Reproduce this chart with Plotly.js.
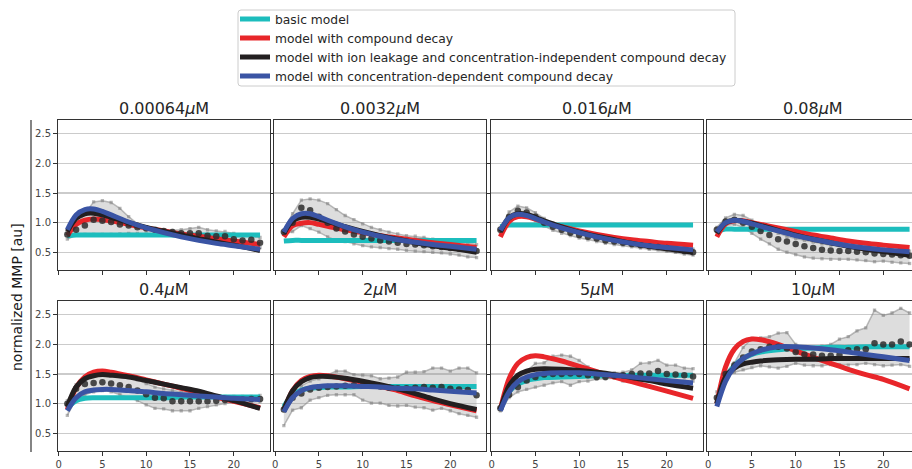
<!DOCTYPE html>
<html>
<head>
<meta charset="utf-8">
<script src="https://cdn.plot.ly/plotly-3.0.1.min.js"></script>
<style>
  html, body { margin: 0; padding: 0; background: #fff; width: 912px; height: 469px; overflow: hidden; }
  #chart { width: 920px; height: 469px; }
</style>
</head>
<body>
<div id="chart"></div>
<script>
// Compound concentrations, one panel each (µM)
const concentrations = ["0.00064", "0.0032", "0.016", "0.08", "0.4", "2", "5", "10"];

// Measurement days
const days = [1, 2, 3, 4, 5, 6, 7, 8, 9, 10, 11, 12, 13, 14, 15, 16, 17, 18, 19, 20, 21, 22, 23];

// Days at which the fitted model curves are evaluated
const modelDays = [1, 2, 3, 4, 5, 6, 8, 10, 12, 14, 16, 18, 20, 23];

// Mean normalized MMP per panel
const meanMMP = [
  [0.80, 0.88, 0.95, 1.05, 1.03, 1.01, 0.97, 0.95, 0.92, 0.90, 0.88, 0.86, 0.84, 0.82, 0.82, 0.82, 0.78, 0.77, 0.77, 0.72, 0.70, 0.71, 0.66],
  [0.84, 1.00, 1.25, 1.21, 1.10, 1.00, 0.90, 0.85, 0.80, 0.76, 0.73, 0.70, 0.68, 0.66, 0.64, 0.63, 0.62, 0.60, 0.59, 0.57, 0.56, 0.54, 0.52],
  [0.88, 1.10, 1.20, 1.17, 1.10, 1.00, 0.93, 0.88, 0.83, 0.79, 0.76, 0.73, 0.70, 0.68, 0.66, 0.64, 0.62, 0.60, 0.59, 0.57, 0.55, 0.52, 0.50],
  [0.88, 1.02, 1.05, 1.00, 0.93, 0.86, 0.79, 0.72, 0.68, 0.64, 0.60, 0.57, 0.54, 0.53, 0.52, 0.52, 0.51, 0.50, 0.48, 0.47, 0.46, 0.45, 0.44],
  [1.00, 1.25, 1.33, 1.35, 1.36, 1.34, 1.31, 1.28, 1.22, 1.16, 1.10, 1.09, 1.04, 1.04, 1.04, 1.04, 1.04, 1.05, 1.06, 1.07, 1.07, 1.08, 1.08],
  [0.90, 1.10, 1.17, 1.24, 1.27, 1.28, 1.29, 1.30, 1.31, 1.30, 1.30, 1.29, 1.27, 1.26, 1.26, 1.27, 1.28, 1.27, 1.28, 1.25, 1.24, 1.23, 1.14],
  [0.92, 1.15, 1.28, 1.39, 1.45, 1.49, 1.50, 1.50, 1.51, 1.50, 1.48, 1.45, 1.45, 1.47, 1.48, 1.50, 1.51, 1.51, 1.55, 1.50, 1.49, 1.48, 1.46],
  [1.10, 1.50, 1.65, 1.78, 1.88, 1.92, 1.96, 1.96, 1.93, 1.87, 1.83, 1.83, 1.81, 1.81, 1.82, 1.90, 1.92, 1.92, 2.02, 2.00, 2.00, 2.05, 2.00]
];

// Upper replicate trace per panel
const upperReplicate = [
  [0.85, 0.95, 1.15, 1.35, 1.37, 1.34, 1.24, 1.10, 0.98, 0.93, 0.90, 0.88, 0.87, 0.88, 0.90, 0.92, 0.88, 0.86, 0.85, 0.82, 0.79, 0.77, 0.75],
  [0.88, 1.15, 1.38, 1.40, 1.38, 1.32, 1.22, 1.12, 1.05, 0.98, 0.92, 0.88, 0.84, 0.81, 0.78, 0.77, 0.75, 0.72, 0.71, 0.69, 0.67, 0.66, 0.63],
  [0.92, 1.18, 1.28, 1.25, 1.17, 1.07, 1.00, 0.94, 0.88, 0.84, 0.80, 0.77, 0.75, 0.72, 0.70, 0.68, 0.66, 0.65, 0.63, 0.61, 0.59, 0.57, 0.55],
  [0.92, 1.08, 1.14, 1.12, 1.04, 0.95, 0.88, 0.82, 0.77, 0.73, 0.70, 0.67, 0.64, 0.62, 0.61, 0.61, 0.60, 0.59, 0.57, 0.56, 0.55, 0.53, 0.52],
  [1.05, 1.32, 1.42, 1.46, 1.50, 1.52, 1.50, 1.46, 1.40, 1.34, 1.28, 1.25, 1.22, 1.20, 1.18, 1.15, 1.13, 1.12, 1.12, 1.12, 1.12, 1.12, 1.14],
  [0.95, 1.10, 1.30, 1.38, 1.42, 1.48, 1.55, 1.55, 1.49, 1.48, 1.47, 1.42, 1.43, 1.45, 1.53, 1.53, 1.54, 1.60, 1.60, 1.55, 1.60, 1.60, 1.52],
  [0.95, 1.22, 1.40, 1.55, 1.68, 1.69, 1.80, 1.82, 1.80, 1.73, 1.62, 1.53, 1.52, 1.52, 1.53, 1.57, 1.68, 1.69, 1.73, 1.65, 1.65, 1.60, 1.59],
  [1.20, 1.52, 1.69, 1.95, 2.10, 2.11, 2.13, 2.19, 2.20, 2.00, 1.95, 1.95, 1.97, 2.00, 2.09, 2.13, 2.23, 2.28, 2.58, 2.49, 2.53, 2.61, 2.53]
];

// Lower replicate trace per panel
const lowerReplicate = [
  [0.72, 0.79, 0.80, 0.80, 0.80, 0.80, 0.81, 0.82, 0.82, 0.81, 0.80, 0.79, 0.78, 0.76, 0.75, 0.74, 0.71, 0.69, 0.69, 0.64, 0.62, 0.64, 0.58],
  [0.80, 0.85, 0.95, 0.90, 0.84, 0.76, 0.70, 0.68, 0.64, 0.61, 0.59, 0.58, 0.56, 0.55, 0.53, 0.52, 0.51, 0.50, 0.49, 0.47, 0.45, 0.42, 0.41],
  [0.84, 1.02, 1.12, 1.10, 1.03, 0.94, 0.87, 0.82, 0.78, 0.74, 0.71, 0.68, 0.65, 0.63, 0.61, 0.59, 0.57, 0.55, 0.54, 0.52, 0.50, 0.47, 0.45],
  [0.82, 0.95, 0.97, 0.92, 0.82, 0.72, 0.64, 0.55, 0.50, 0.46, 0.42, 0.40, 0.39, 0.38, 0.38, 0.38, 0.37, 0.36, 0.34, 0.35, 0.33, 0.32, 0.31],
  [0.80, 1.08, 1.15, 1.20, 1.22, 1.20, 1.15, 1.10, 1.05, 0.98, 0.92, 0.91, 0.88, 0.88, 0.88, 0.92, 0.95, 0.98, 1.00, 1.02, 1.02, 1.02, 1.03],
  [0.63, 0.89, 0.93, 1.06, 1.10, 1.14, 1.15, 1.15, 1.15, 1.06, 1.01, 1.01, 0.97, 0.96, 0.97, 0.94, 0.93, 0.89, 0.92, 0.88, 0.83, 0.80, 0.77],
  [0.88, 1.10, 1.20, 1.24, 1.28, 1.31, 1.35, 1.37, 1.31, 1.37, 1.38, 1.41, 1.42, 1.43, 1.38, 1.37, 1.38, 1.40, 1.37, 1.38, 1.36, 1.38, 1.38],
  [1.03, 1.45, 1.53, 1.57, 1.61, 1.64, 1.62, 1.60, 1.63, 1.68, 1.65, 1.64, 1.64, 1.66, 1.66, 1.65, 1.66, 1.68, 1.66, 1.64, 1.65, 1.66, 1.63]
];

// Model fits, evaluated at modelDays
const basicModel = [
  [0.78, 0.79, 0.79, 0.79, 0.79, 0.79, 0.79, 0.79, 0.79, 0.79, 0.79, 0.79, 0.79, 0.79],
  [0.69, 0.70, 0.70, 0.70, 0.70, 0.70, 0.70, 0.70, 0.70, 0.70, 0.70, 0.70, 0.70, 0.70],
  [0.93, 0.96, 0.96, 0.96, 0.96, 0.96, 0.96, 0.96, 0.96, 0.96, 0.96, 0.96, 0.96, 0.96],
  [0.85, 0.89, 0.89, 0.89, 0.89, 0.89, 0.89, 0.89, 0.89, 0.89, 0.89, 0.89, 0.89, 0.89],
  [0.93, 1.05, 1.09, 1.10, 1.10, 1.10, 1.10, 1.10, 1.10, 1.11, 1.11, 1.11, 1.11, 1.11],
  [0.95, 1.15, 1.23, 1.26, 1.27, 1.28, 1.28, 1.29, 1.29, 1.29, 1.29, 1.29, 1.29, 1.29],
  [0.90, 1.20, 1.33, 1.39, 1.42, 1.44, 1.45, 1.46, 1.47, 1.47, 1.48, 1.48, 1.48, 1.48],
  [1.00, 1.42, 1.64, 1.76, 1.83, 1.87, 1.91, 1.93, 1.94, 1.95, 1.95, 1.96, 1.96, 1.96]
];
const decayModel = [
  [0.78, 0.97, 1.04, 1.06, 1.05, 1.03, 0.97, 0.91, 0.86, 0.81, 0.77, 0.73, 0.69, 0.63],
  [0.76, 0.95, 0.99, 1.00, 0.97, 0.94, 0.88, 0.83, 0.78, 0.74, 0.70, 0.66, 0.63, 0.58],
  [0.76, 1.02, 1.10, 1.10, 1.06, 1.01, 0.93, 0.86, 0.80, 0.75, 0.71, 0.68, 0.65, 0.62],
  [0.76, 0.98, 1.03, 1.03, 1.00, 0.97, 0.91, 0.85, 0.79, 0.74, 0.69, 0.65, 0.62, 0.58],
  [0.90, 1.27, 1.45, 1.53, 1.55, 1.53, 1.47, 1.40, 1.33, 1.26, 1.19, 1.11, 1.04, 0.93],
  [0.88, 1.22, 1.39, 1.46, 1.48, 1.47, 1.42, 1.36, 1.29, 1.22, 1.13, 1.05, 0.98, 0.88],
  [0.90, 1.42, 1.68, 1.78, 1.81, 1.79, 1.72, 1.63, 1.54, 1.45, 1.37, 1.29, 1.21, 1.09],
  [1.00, 1.62, 1.92, 2.05, 2.09, 2.08, 2.00, 1.89, 1.78, 1.68, 1.58, 1.49, 1.41, 1.25]
];
const leakageModel = [
  [0.85, 1.07, 1.15, 1.16, 1.13, 1.09, 1.00, 0.92, 0.85, 0.79, 0.73, 0.67, 0.62, 0.53],
  [0.82, 1.03, 1.09, 1.09, 1.06, 1.02, 0.93, 0.85, 0.78, 0.72, 0.66, 0.61, 0.57, 0.50],
  [0.85, 1.08, 1.15, 1.14, 1.09, 1.03, 0.93, 0.84, 0.77, 0.71, 0.65, 0.60, 0.56, 0.50],
  [0.82, 1.00, 1.04, 1.02, 0.99, 0.95, 0.87, 0.79, 0.72, 0.66, 0.60, 0.55, 0.51, 0.45],
  [0.95, 1.28, 1.42, 1.47, 1.49, 1.48, 1.45, 1.39, 1.33, 1.27, 1.21, 1.13, 1.05, 0.92],
  [0.90, 1.22, 1.37, 1.44, 1.46, 1.46, 1.43, 1.38, 1.32, 1.25, 1.17, 1.08, 1.00, 0.90],
  [0.90, 1.30, 1.48, 1.55, 1.58, 1.59, 1.58, 1.56, 1.53, 1.49, 1.44, 1.39, 1.33, 1.26],
  [1.00, 1.45, 1.60, 1.67, 1.70, 1.72, 1.74, 1.75, 1.75, 1.76, 1.76, 1.76, 1.76, 1.76]
];
const concDepModel = [
  [0.88, 1.13, 1.22, 1.23, 1.19, 1.13, 1.01, 0.91, 0.83, 0.76, 0.70, 0.65, 0.61, 0.55],
  [0.84, 1.07, 1.15, 1.15, 1.10, 1.04, 0.93, 0.84, 0.77, 0.71, 0.67, 0.63, 0.60, 0.55],
  [0.87, 1.08, 1.14, 1.12, 1.07, 1.01, 0.91, 0.83, 0.76, 0.70, 0.65, 0.61, 0.58, 0.54],
  [0.84, 1.00, 1.04, 1.02, 0.98, 0.94, 0.86, 0.78, 0.72, 0.66, 0.61, 0.57, 0.54, 0.51],
  [0.88, 1.10, 1.20, 1.23, 1.24, 1.24, 1.22, 1.20, 1.17, 1.15, 1.13, 1.11, 1.09, 1.07],
  [0.86, 1.10, 1.22, 1.27, 1.29, 1.30, 1.30, 1.29, 1.28, 1.26, 1.25, 1.23, 1.21, 1.18],
  [0.88, 1.20, 1.37, 1.45, 1.49, 1.51, 1.52, 1.52, 1.50, 1.48, 1.45, 1.42, 1.39, 1.35],
  [0.95, 1.38, 1.62, 1.76, 1.84, 1.90, 1.96, 1.96, 1.94, 1.91, 1.87, 1.83, 1.79, 1.73]
];

const modelNames = [
  "basic model",
  "model with compound decay",
  "model with ion leakage and concentration-independent compound decay",
  "model with concentration-dependent compound decay"
];
const modelColors = ["#1cbdbd", "#e8262a", "#231f20", "#3a54a4"];
const yTicks = [0.5, 1.0, 1.5, 2.0, 2.5];
const xTicks = [0, 5, 10, 15, 20];

// ---- panel geometry (pixels on a 920 x 469 canvas) ----
const W = 920, H = 469;
const colLeft = [57.7, 274.2, 490.7, 707.2];
const panelW = 212;
const rowTop = [120, 301];
const panelH = 150;
const fx = px => px / W;
const fy = py => (H - py) / H;

const FONT = "DejaVu Sans, Liberation Sans, sans-serif";
const traces = [];
const layout = {
  width: W, height: H,
  margin: {l: 0, r: 0, t: 0, b: 0},
  paper_bgcolor: "#fff",
  plot_bgcolor: "#fff",
  font: {family: FONT, color: "#262626"},
  showlegend: true,
  legend: {
    x: fx(235), y: fy(4.5), xanchor: "left", yanchor: "top",
    bgcolor: "rgba(0,0,0,0)", borderwidth: 0,
    font: {family: FONT, size: 12.3, color: "#262626"},
    tracegroupgap: 0
  },
  annotations: [],
  shapes: []
};

// rounded frame behind the legend entries
(function legendFrame() {
  const x0 = 238, x1 = 735, y0 = 10, y1 = 86, r = 3;
  const P = (x, y) => fx(x) + "," + fy(y);
  layout.shapes.push({
    type: "path", xref: "paper", yref: "paper", layer: "above",
    path: "M" + P(x0 + r, y0) + " L" + P(x1 - r, y0) + " Q" + P(x1, y0) + " " + P(x1, y0 + r) +
          " L" + P(x1, y1 - r) + " Q" + P(x1, y1) + " " + P(x1 - r, y1) +
          " L" + P(x0 + r, y1) + " Q" + P(x0, y1) + " " + P(x0, y1 - r) +
          " L" + P(x0, y0 + r) + " Q" + P(x0, y0) + " " + P(x0 + r, y0) + " Z",
    line: {color: "#cccccc", width: 1}, fillcolor: "rgba(0,0,0,0)"
  });
})();

const modelSets = [basicModel, decayModel, leakageModel, concDepModel];

concentrations.forEach((conc, i) => {
  const col = i % 4, row = Math.floor(i / 4);
  const sfx = i === 0 ? "" : String(i + 1);
  const xa = "x" + sfx, ya = "y" + sfx;

  // replicate band: lower edge, then upper edge filled down to it
  traces.push({
    x: days, y: lowerReplicate[i], xaxis: xa, yaxis: ya, type: "scatter",
    mode: "lines+markers", showlegend: false, hoverinfo: "skip",
    line: {color: "rgba(125,125,125,0.5)", width: 1.5},
    marker: {symbol: "square", size: 3.3, color: "rgba(125,125,125,0.55)"}
  });
  traces.push({
    x: days, y: upperReplicate[i], xaxis: xa, yaxis: ya, type: "scatter",
    mode: "lines+markers", showlegend: false, hoverinfo: "skip",
    fill: "tonexty", fillcolor: "rgba(150,150,150,0.32)",
    line: {color: "rgba(125,125,125,0.5)", width: 1.5},
    marker: {symbol: "square", size: 3.3, color: "rgba(125,125,125,0.55)"}
  });

  const modelTrace = (m) => ({
    x: modelDays, y: modelSets[m][i], xaxis: xa, yaxis: ya, type: "scatter",
    mode: "lines", name: modelNames[m], legendgroup: "m" + m,
    showlegend: i === 0, legendrank: m + 1,
    line: {color: modelColors[m], width: 5, shape: "spline", smoothing: 0.9}
  });

  traces.push(modelTrace(0));
  traces.push(modelTrace(1));
  // mean of the measurements
  traces.push({
    x: days, y: meanMMP[i], xaxis: xa, yaxis: ya, type: "scatter",
    mode: "markers", showlegend: false,
    marker: {symbol: "circle", size: 6.5, color: "rgba(45,45,45,0.85)"}
  });
  traces.push(modelTrace(2));
  traces.push(modelTrace(3));

  const x0 = colLeft[col], y0 = rowTop[row];
  layout["xaxis" + sfx] = {
    domain: [fx(x0), fx(x0 + panelW)], anchor: ya,
    range: [-0.1, 24.1], tickvals: xTicks, ticktext: xTicks.map(String),
    showticklabels: row === 1, ticks: "outside", ticklen: 3.5, tickwidth: 1, tickcolor: "#333",
    showgrid: false, zeroline: false,
    showline: true, mirror: true, linecolor: "#333", linewidth: 1.2,
    tickfont: {family: FONT, size: 10, color: "#444"}
  };
  layout["yaxis" + sfx] = {
    domain: [fy(y0 + panelH), fy(y0)], anchor: xa,
    range: [0.2, 2.733], tickvals: yTicks, ticktext: yTicks.map(v => v.toFixed(1)),
    showticklabels: col === 0, ticks: "outside", ticklen: 3.5, tickwidth: 1, tickcolor: "#333",
    showgrid: true, gridcolor: "#cbcbcb", gridwidth: 1.3, zeroline: false,
    showline: true, mirror: true, linecolor: "#333", linewidth: 1.2,
    tickfont: {family: FONT, size: 10, color: "#444"}
  };

  layout.annotations.push({
    xref: "paper", yref: "paper",
    x: fx(x0 + panelW / 2), y: fy(y0), xanchor: "center", yanchor: "bottom", yshift: 0,
    text: conc + "<i>μ</i>M", showarrow: false,
    font: {family: FONT, size: 16, color: "#262626"}
  });
});

// shared y label and its spine
layout.annotations.push({
  xref: "paper", yref: "paper", x: fx(17), y: fy(297),
  xanchor: "center", yanchor: "middle", textangle: -90,
  text: "normalized MMP [au]", showarrow: false,
  font: {family: FONT, size: 14, color: "#1a1a1a"}
});
layout.shapes.push({
  type: "line", xref: "paper", yref: "paper",
  x0: fx(31), x1: fx(31), y0: fy(120), y1: fy(452),
  line: {color: "#333", width: 1.2}
});

Plotly.newPlot("chart", traces, layout, {displayModeBar: false, staticPlot: true});
</script>
</body>
</html>
